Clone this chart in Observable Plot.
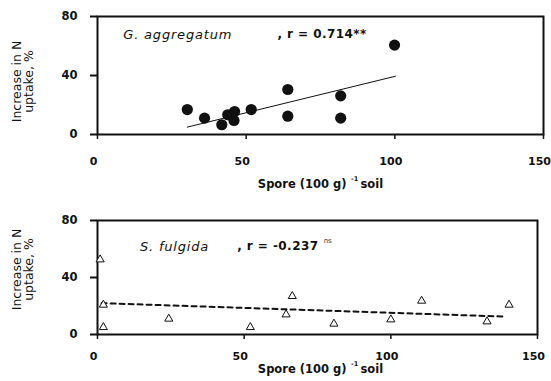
<!DOCTYPE html>
<html><head><meta charset="utf-8">
<script src="https://cdn.jsdelivr.net/npm/d3@7"></script>
<script src="https://cdn.jsdelivr.net/npm/@observablehq/plot@0.6"></script>
<style>
body{margin:0;background:#fff}
#chart svg{display:block}
g[aria-description="species"] text{letter-spacing:.8px}
g[aria-description="stat"] text{letter-spacing:.45px}
</style></head><body><div id="chart"></div>
<script>
// ---- data ----
const xTicks = [0, 50, 100, 150];
const yTicks = [0, 40, 80];

// G. aggregatum (filled circles)
const aggX = [30.2, 36.0, 41.8, 43.8, 46.1, 45.9, 51.7, 64.0, 64.0, 81.8, 81.8, 99.9];
const aggY = [16.9, 11.1, 6.6, 13.4, 15.6, 9.5, 16.9, 30.5, 12.4, 26.2, 11.1, 60.6];
const aggFitX = [30.2, 100.2];
const aggFitY = [5.0, 39.5];

// S. fulgida (open triangles)
const fulX = [0.9, 2.0, 2.0, 24.3, 52.1, 64.3, 66.4, 80.6, 100.0, 110.5, 132.8, 140.3];
const fulY = [52.6, 20.8, 5.1, 11.0, 5.1, 14.0, 26.9, 7.5, 10.5, 23.6, 9.1, 20.8];
const fulFitX = [1.4, 138.3];
const fulFitY = [22.0, 12.6];

const speciesLabels = ["G. aggregatum", "S. fulgida"];
const statLabels = [", r = 0.714**", ", r = -0.237"];
const sigLabels = ["", "ns"];
const yTitle = "Increase in N\nuptake, %";
const xTitleParts = ["Spore (100 g)", "-1", "soil"];

const toRows = (xs, ys) => xs.map((x, i) => ({x, y: ys[i]}));

function panel(cfg) {
  const marks = [
    Plot.frame({stroke: "#111", strokeWidth: 2}),
    Plot.axisX({ticks: xTicks, tickSize: 5, strokeWidth: 1.5, tickFormat: () => "", label: null}),
    Plot.axisX({ticks: xTicks, tickSize: 0, tickPadding: 5 + cfg.xPad, dx: -4, fontSize: 11, fontWeight: "bold", label: null}),
    Plot.axisY({ticks: yTicks, tickSize: 7, tickPadding: 13, fontSize: 11.5, fontWeight: "bold", strokeWidth: 2, label: null}),
    Plot.text([yTitle], {frameAnchor: "left", textAnchor: "middle", lineAnchor: "middle", rotate: -90, dx: -74.5, dy: cfg.yTitleDy, fontSize: 12.5, lineHeight: 0.95}),
    Plot.text([xTitleParts[0]], {frameAnchor: "bottom", textAnchor: "end", dx: cfg.xtDx, dy: cfg.xtDy, fontSize: 11.5, fontWeight: "bold"}),
    Plot.text([xTitleParts[1]], {frameAnchor: "bottom", textAnchor: "start", dx: cfg.xtDx + 4.5, dy: cfg.xtDy - 7, fontSize: 6.5, fontWeight: "bold"}),
    Plot.text([xTitleParts[2]], {frameAnchor: "bottom", textAnchor: "start", dx: cfg.xtDx + 14, dy: cfg.xtDy, fontSize: 11.5, fontWeight: "bold"}),
    Plot.text([cfg.species], {x: () => cfg.spX, y: () => cfg.labY, textAnchor: "start", fontStyle: "italic", fontSize: 13, ariaDescription: "species"}),
    Plot.text([cfg.stat], {x: () => cfg.stX, y: () => cfg.labY, textAnchor: "start", fontWeight: "bold", fontSize: 12, ariaDescription: "stat"}),
    Plot.line(toRows(cfg.fitX, cfg.fitY), {x: "x", y: "y", stroke: "#111", strokeWidth: cfg.fitWidth, strokeDasharray: cfg.dash})
  ];
  if (cfg.sig) marks.push(Plot.text([cfg.sig], {x: () => cfg.sigX, y: () => cfg.sigY, textAnchor: "start", fontSize: 7, fill: "#333"}));
  marks.push(Plot.dot(toRows(cfg.xs, cfg.ys), cfg.dotOpts));
  return Plot.plot({
    width: 551, height: cfg.height,
    marginTop: cfg.mt, marginBottom: cfg.mb, marginLeft: 97, marginRight: cfg.mr,
    x: {domain: [0, 150]}, y: {domain: [0, 80]},
    style: {fontFamily: "DejaVu Sans", background: "white", color: "#111", overflow: "visible"},
    marks
  });
}

const topPanel = panel({
  height: 196, mt: 16, mb: 62, mr: 8, xPad: 18, yTitleDy: 6, xtDx: 26, xtDy: 53,
  species: speciesLabels[0], stat: statLabels[0], spX: 8.7, stX: 60.5, labY: 67.8,
  fitX: aggFitX, fitY: aggFitY, fitWidth: 1, dash: null,
  xs: aggX, ys: aggY, dotOpts: {x: "x", y: "y", r: 5.6, fill: "#111", stroke: "none"}
});
const bottomPanel = panel({
  height: 185, mt: 24, mb: 47, mr: 14, xPad: 13, yTitleDy: -8, xtDx: 29, xtDy: 38,
  species: speciesLabels[1], stat: statLabels[1], sig: sigLabels[1], spX: 14.5, stX: 47.6, labY: 61.8,
  sigX: 77.1, sigY: 65.5,
  fitX: fulFitX, fitY: fulFitY, fitWidth: 2, dash: "5,4",
  xs: fulX, ys: fulY, dotOpts: {x: "x", y: "y", r: 3, symbol: "triangle", fill: "white", stroke: "#111", strokeWidth: 1}
});
document.getElementById("chart").append(topPanel, bottomPanel);
</script></body></html>
